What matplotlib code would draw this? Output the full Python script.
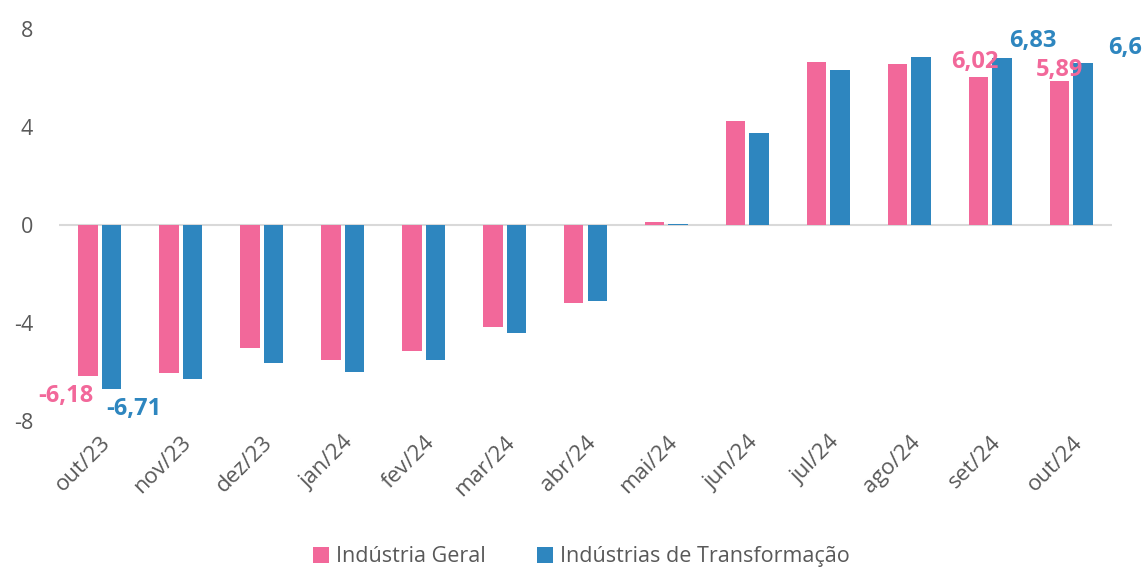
import matplotlib.pyplot as plt
import numpy as np

plt.rcParams['font.family'] = ['Open Sans', 'DejaVu Sans']

months = ['out/23', 'nov/23', 'dez/23', 'jan/24', 'fev/24', 'mar/24', 'abr/24',
          'mai/24', 'jun/24', 'jul/24', 'ago/24', 'set/24', 'out/24']
geral = [-6.18, -6.04, -5.04, -5.53, -5.14, -4.17, -3.18, 0.10, 4.23, 6.64, 6.55, 6.02, 5.89]
transf = [-6.71, -6.28, -5.62, -6.00, -5.50, -4.40, -3.10, 0.04, 3.76, 6.32, 6.86, 6.83, 6.60]
yticks = [-8, -4, 0, 4, 8]

pink = '#F2689A'
blue = '#2E86BF'
grey = '#595959'

fig = plt.figure(figsize=(11.44, 5.68), dpi=100)
ax = fig.add_axes([0.052, 0.259, 0.92, 0.69])

x = np.arange(len(months))
w = 0.24
ax.bar(x - 0.148, geral, w, color=pink, label='Indústria Geral')
ax.bar(x + 0.142, transf, w, color=blue, label='Indústrias de Transformação')

ax.axhline(0, color='#D9D9D9', lw=1.5, zorder=0)
ax.set_xlim(-0.5, len(months) - 0.5)
ax.set_ylim(-8, 8)
ax.set_yticks(yticks)
ax.set_yticklabels([str(v) for v in yticks])
ax.set_xticks(x)
ax.set_xticklabels(months, rotation=45, ha='right', rotation_mode='anchor')
ax.tick_params(axis='y', length=0, labelsize=15.5, labelcolor=grey, pad=19)
ax.tick_params(axis='x', length=0, labelsize=16, labelcolor=grey, pad=8)
for s in ax.spines.values():
    s.set_visible(False)

def fmt(v):
    return f'{v:.2f}'.replace('.', ',') if round(v, 2) != round(v, 1) else f'{v:.1f}'.replace('.', ',')

lab = dict(fontsize=17, fontweight='bold', ha='center', va='center')
ax.annotate(fmt(geral[0]), (x[0] - 0.148, geral[0]), xytext=(-16, -14),
            textcoords='offset points', color=pink, **lab)
ax.annotate(fmt(transf[0]), (x[0] + 0.142, transf[0]), xytext=(16, -14),
            textcoords='offset points', color=blue, **lab)
ax.annotate(fmt(geral[11]), (x[11] - 0.148, geral[11]), xytext=(-3, 11),
            textcoords='offset points', color=pink, **lab)
ax.annotate(fmt(transf[11]), (x[11] + 0.142, transf[11]), xytext=(22, 12),
            textcoords='offset points', color=blue, **lab)
ax.annotate(fmt(geral[12]), (x[12] - 0.148, geral[12]), xytext=(0, 8),
            textcoords='offset points', color=pink, **lab)
ax.annotate(fmt(transf[12]), (x[12] + 0.142, transf[12]), xytext=(30, 11),
            textcoords='offset points', color=blue, annotation_clip=False, **lab)

leg = fig.legend(loc='lower center', bbox_to_anchor=(0.508, -0.033), ncol=2, frameon=False,
                 fontsize=15.5, handlelength=0.75, handleheight=0.75, handletextpad=0.3,
                 columnspacing=2.4)
for t in leg.get_texts():
    t.set_color(grey)

fig.savefig('out.png', dpi=100)
